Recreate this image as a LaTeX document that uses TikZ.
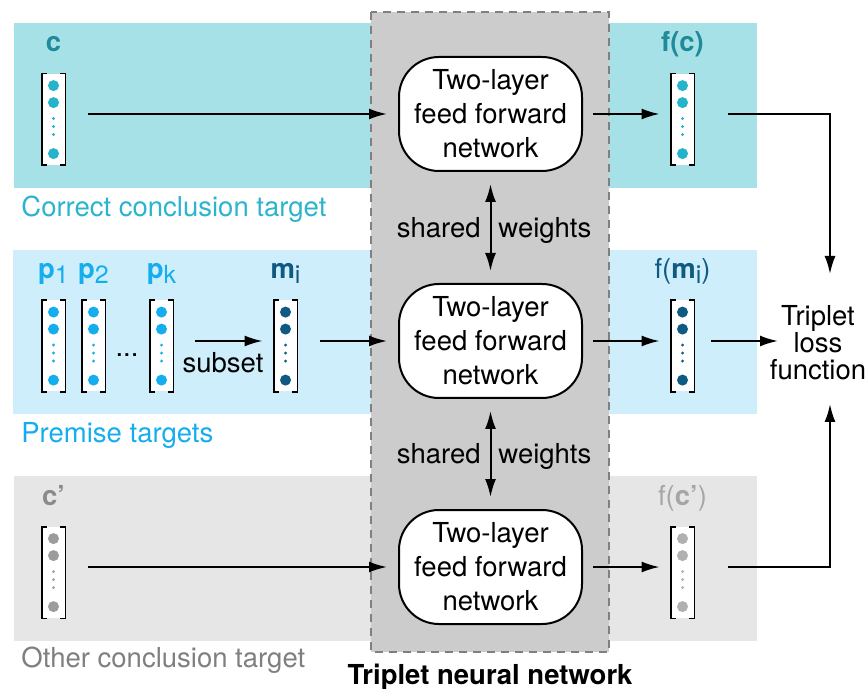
\documentclass[tikz,border=0pt]{standalone}
\usepackage{fontspec}
\setmainfont{TeX Gyre Heros}
\usetikzlibrary{arrows.meta,calc}
\definecolor{bandC}{HTML}{A7E1E8}
\definecolor{bandP}{HTML}{CFEEFC}
\definecolor{bandO}{HTML}{E6E6E6}
\definecolor{boxG}{HTML}{CCCCCC}
\definecolor{boxLine}{HTML}{808080}
\definecolor{tealD}{HTML}{1F8A9B}
\definecolor{tealDot}{HTML}{25B2CB}
\definecolor{tealTxt}{HTML}{2BB4CE}
\definecolor{skyB}{HTML}{14ADEE}
\definecolor{navyB}{HTML}{0E5A83}
\definecolor{grayLbl}{HTML}{8A8A8A}
\definecolor{grayDot}{HTML}{9C9C9C}
\definecolor{grayLt}{HTML}{A6A6A6}
\definecolor{grayDotLt}{HTML}{B0B0B0}
\definecolor{grayTxt}{HTML}{7F7F7F}
\newcommand\fs{\fontsize{13.75pt}{17pt}\selectfont}
\newcommand\subsc[1]{\raisebox{-2.2pt}{\fontsize{12.5pt}{12.5pt}\mdseries\selectfont #1}}
\newcommand\vecfill[2]{%
  \draw[vbr] ([xshift=2.5pt]#1.north west) -- (#1.north west) -- (#1.south west) -- ([xshift=2.5pt]#1.south west);
  \draw[vbr] ([xshift=-2.5pt]#1.north east) -- (#1.north east) -- (#1.south east) -- ([xshift=-2.5pt]#1.south east);
  \fill[#2] ([yshift=-6pt]#1.north) circle (2.75pt);
  \fill[#2] ([yshift=-14.5pt]#1.north) circle (2.75pt);
  \fill[#2] ([yshift=-22.5pt]#1.north) circle (0.8pt);
  \fill[#2] ([yshift=-26.5pt]#1.north) circle (0.8pt);
  \fill[#2] ([yshift=-30.5pt]#1.north) circle (0.8pt);
  \fill[#2] ([yshift=-40pt]#1.north) circle (2.75pt);
}
\begin{document}
\begin{tikzpicture}[x=0.5pt,y=-0.5pt,font=\fs,
  vecbox/.style={rectangle,fill=white,draw=none,inner sep=0pt,minimum width=11.5pt,minimum height=45.5pt},
  vbr/.style={line width=0.9pt,black,line join=miter},
  netbox/.style={draw,line width=1pt,fill=white,rounded corners=20pt,minimum width=91.5pt,minimum height=57pt,align=center,inner sep=0pt},
  arr/.style={line width=1pt,-{Latex[length=9pt,width=5.5pt]}},
  darr/.style={line width=1pt,{Latex[length=9pt,width=5.5pt]}-{Latex[length=9pt,width=5.5pt]}},
  lbl/.style={anchor=base,inner sep=0pt}]
\useasboundingbox (0,0) rectangle (867,689);
% bands
\fill[bandC] (14,23) rectangle (757,188);
\fill[bandP] (13,250) rectangle (757,414);
\fill[bandO] (14,476) rectangle (757,641);
% triplet network box
\filldraw[fill=boxG,draw=boxLine,line width=0.8pt,dash pattern=on 4pt off 3pt] (371,12) rectangle (609,652);
% networks
\node[netbox] (net1) at (490.5,114) {Two-layer\\feed forward\\network};
\node[netbox] (net2) at (490.5,341) {Two-layer\\feed forward\\network};
\node[netbox] (net3) at (490.5,567) {Two-layer\\feed forward\\network};
% vectors
\node[vecbox] (c) at (53.5,119.5) {};
\node[vecbox] (fc) at (682.5,119.5) {};
\node[vecbox] (p1) at (53.5,346) {};
\node[vecbox] (p2) at (93.5,346) {};
\node[vecbox] (pk) at (161.5,346) {};
\node[vecbox] (mi) at (285.5,346) {};
\node[vecbox] (fmi) at (682.5,346) {};
\node[vecbox] (cp) at (53.5,572.5) {};
\node[vecbox] (fcp) at (682.5,572.5) {};
\vecfill{c}{tealDot}
\vecfill{fc}{tealDot}
\vecfill{p1}{skyB}
\vecfill{p2}{skyB}
\vecfill{pk}{skyB}
\vecfill{mi}{navyB}
\vecfill{fmi}{navyB}
\vecfill{cp}{grayDot}
\vecfill{fcp}{grayDotLt}
% labels
\node[lbl,text=tealD,font=\fs\bfseries] (lc) at (53.5,52) {c};
\node[lbl,text=tealD,font=\fs\bfseries] (lfc) at (682.5,52) {f(c)};
\node[lbl,text=skyB,font=\fs\bfseries] (lp1) at (53.5,279) {p\subsc{1}};
\node[lbl,text=skyB,font=\fs\bfseries] (lp2) at (93.5,279) {p\subsc{2}};
\node[lbl,text=skyB,font=\fs\bfseries] (lpk) at (161.5,279) {p\subsc{k}};
\node[lbl,text=navyB,font=\fs\bfseries] (lmi) at (285.5,279) {m\subsc{i}};
\node[lbl,text=navyB] (lfmi) at (682.5,279) {f(\textbf{m}\subsc{i})};
\node[lbl,text=grayLbl,font=\fs\bfseries] (lcp) at (53.5,505) {c’};
\node[lbl,text=grayLt] (lfcp) at (682.5,505) {f(\textbf{c’})};
\node[lbl] (dots) at (127,357) {...};
\node[anchor=base west,inner sep=0pt,text=tealTxt] (tc) at (21,217) {Correct conclusion target};
\node[anchor=base west,inner sep=0pt,text=skyB] (tp) at (21,443) {Premise targets};
\node[anchor=base west,inner sep=0pt,text=grayTxt] (to) at (21,667) {Other conclusion target};
\node[lbl,font=\fs\bfseries] (tnn) at (490,684) {Triplet neural network};
\node[align=center,inner sep=0pt,font=\fontsize{13.75pt}{13.5pt}\selectfont] (loss) at (818,343) {Triplet\\loss\\function};
\coordinate (lossT) at (830,274);
\coordinate (lossB) at (830,404);
\coordinate (lossL) at (778,341);
% shared weights
\draw[darr,shorten <=6pt,shorten >=6pt] (net1.south) -- (net2.north);
\draw[darr,shorten <=6pt,shorten >=6pt] (net2.south) -- (net3.north);
\node[anchor=base east,inner sep=0pt] (sw1a) at (481,238) {shared};
\node[anchor=base west,inner sep=0pt] (sw1b) at (498,238) {weights};
\node[anchor=base east,inner sep=0pt] (sw2a) at (481,463) {shared};
\node[anchor=base west,inner sep=0pt] (sw2b) at (498,463) {weights};
% connectors top
\draw[arr,shorten <=11.5pt,shorten >=5.5pt] (c.east |- net1.west) -- (net1.west);
\draw[arr,shorten <=5pt,shorten >=5.5pt] (net1.east) -- (fc.west |- net1.east);
\draw[arr,shorten <=17pt] (fc.east |- net1.east) -| (lossT);
% middle
\draw[arr,shorten <=11pt,shorten >=5.5pt] (pk.east |- net2.west) -- (mi.west |- net2.west);
\node[lbl] (subset) at (223,373) {subset};
\draw[arr,shorten <=11.5pt,shorten >=5.5pt] (mi.east |- net2.west) -- (net2.west);
\draw[arr,shorten <=5pt,shorten >=5.5pt] (net2.east) -- (fmi.west |- net2.east);
\draw[arr,shorten <=8.5pt] (fmi.east |- net2.east) -- (lossL |- net2.east);
% bottom
\draw[arr,shorten <=11.5pt,shorten >=5.5pt] (cp.east |- net3.west) -- (net3.west);
\draw[arr,shorten <=5pt,shorten >=5.5pt] (net3.east) -- (fcp.west |- net3.east);
\draw[arr,shorten <=17pt] (fcp.east |- net3.east) -| (lossB);
\end{tikzpicture}
\end{document}
